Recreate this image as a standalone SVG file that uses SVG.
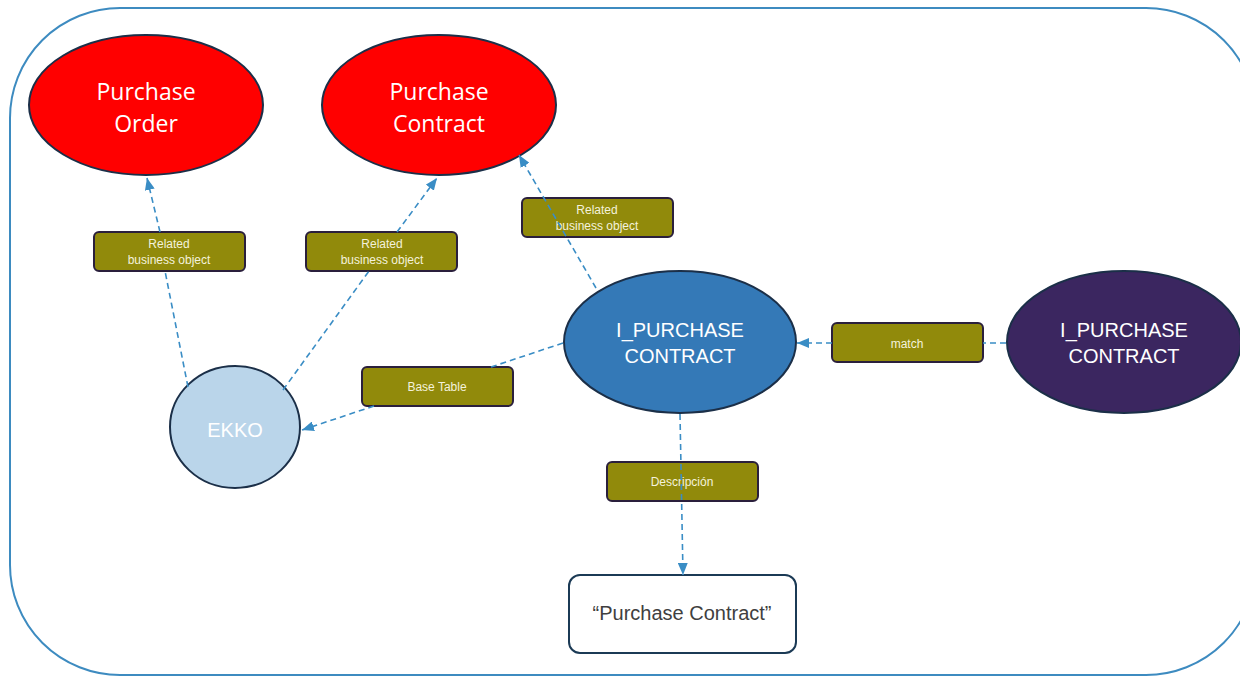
<svg xmlns="http://www.w3.org/2000/svg" width="1240" height="676" viewBox="0 0 1240 676">
  <defs>
    <marker id="arrow" viewBox="0 0 12 10" refX="12" refY="5" markerWidth="12" markerHeight="10" markerUnits="userSpaceOnUse" orient="auto">
      <path d="M0,0 L12,5 L0,10 Z" fill="#3A8DC5"/>
    </marker>
    <style>
      .frame { fill: #FFFFFF; stroke: #3D8BC0; stroke-width: 2; }
      .bo { fill: #FF0000; stroke: #1B2F48; stroke-width: 2; }
      .bo-text { font-family: "Open Sans", "Noto Sans", sans-serif; font-size: 23px; fill: #FFFFFF; text-anchor: middle; }
      .cds { fill: #3479B7; stroke: #1B2F48; stroke-width: 2; }
      .ext { fill: #3B2660; stroke: #1B2F48; stroke-width: 2; }
      .tbl { fill: #BAD5EA; stroke: #1B2F48; stroke-width: 2; }
      .node-text { font-family: "Liberation Sans", Arial, sans-serif; font-size: 20px; fill: #FFFFFF; text-anchor: middle; }
      .desc { fill: #FFFFFF; stroke: #1B3A55; stroke-width: 2; }
      .desc-text { font-family: "Liberation Sans", Arial, sans-serif; font-size: 20px; fill: #404040; text-anchor: middle; }
      .tag { fill: #918A0B; stroke: #2A1F3C; stroke-width: 2; }
      .tag-text { font-family: "Liberation Sans", Arial, sans-serif; font-size: 12px; fill: #F4F2DC; text-anchor: middle; }
      .link { fill: none; stroke: #3A8DC5; stroke-width: 1.6; stroke-dasharray: 6 4; }
    </style>
  </defs>

  <!-- outer frame -->
  <rect class="frame" x="10" y="8" width="1246" height="667" rx="110" ry="110"/>

  <!-- business objects -->
  <g id="purchase-order">
    <ellipse class="bo" cx="146" cy="105" rx="117" ry="70"/>
    <text class="bo-text" x="146" y="100">Purchase</text>
    <text class="bo-text" x="146" y="132">Order</text>
  </g>
  <g id="purchase-contract">
    <ellipse class="bo" cx="439" cy="105" rx="117" ry="70"/>
    <text class="bo-text" x="439" y="100">Purchase</text>
    <text class="bo-text" x="439" y="132">Contract</text>
  </g>

  <!-- CDS views -->
  <g id="i-purchase-contract">
    <ellipse class="cds" cx="680" cy="342" rx="116" ry="71"/>
    <text class="node-text" x="680" y="337">I_PURCHASE</text>
    <text class="node-text" x="680" y="363">CONTRACT</text>
  </g>
  <g id="i-purchase-contract-ext">
    <ellipse class="ext" cx="1124" cy="342" rx="117" ry="71"/>
    <text class="node-text" x="1124" y="337">I_PURCHASE</text>
    <text class="node-text" x="1124" y="363">CONTRACT</text>
  </g>

  <!-- base table -->
  <g id="ekko">
    <ellipse class="tbl" cx="235" cy="427" rx="65" ry="61"/>
    <text class="node-text" x="235" y="437">EKKO</text>
  </g>

  <!-- description -->
  <g id="description">
    <rect class="desc" x="569" y="575" width="227" height="78" rx="11" ry="11"/>
    <text class="desc-text" x="682" y="620">“Purchase Contract”</text>
  </g>

  <!-- relation labels -->
  <g id="label-rbo-order">
    <rect class="tag" x="94" y="232" width="151" height="39" rx="5" ry="5"/>
    <text class="tag-text" x="169" y="248">Related</text>
    <text class="tag-text" x="169" y="264">business object</text>
  </g>
  <g id="label-rbo-contract">
    <rect class="tag" x="306" y="232" width="151" height="39" rx="5" ry="5"/>
    <text class="tag-text" x="382" y="248">Related</text>
    <text class="tag-text" x="382" y="264">business object</text>
  </g>
  <g id="label-rbo-cds">
    <rect class="tag" x="522" y="198" width="151" height="39" rx="5" ry="5"/>
    <text class="tag-text" x="597" y="214">Related</text>
    <text class="tag-text" x="597" y="230">business object</text>
  </g>
  <g id="label-base-table">
    <rect class="tag" x="362" y="367" width="151" height="39" rx="5" ry="5"/>
    <text class="tag-text" x="437" y="391">Base Table</text>
  </g>
  <g id="label-match">
    <rect class="tag" x="832" y="323" width="151" height="39" rx="5" ry="5"/>
    <text class="tag-text" x="907" y="348">match</text>
  </g>
  <g id="label-descripcion">
    <rect class="tag" x="607" y="462" width="151" height="39" rx="5" ry="5"/>
    <text class="tag-text" x="682" y="486">Descripción</text>
  </g>

  <!-- connectors -->
  <g id="connectors">
    <line class="link" x1="188" y1="387" x2="165" y2="271"/>
    <line class="link" x1="160" y1="232" x2="147" y2="178" marker-end="url(#arrow)"/>

    <line class="link" x1="283" y1="390" x2="369" y2="271"/>
    <line class="link" x1="397" y1="232" x2="437" y2="178" marker-end="url(#arrow)"/>

    <line class="link" x1="596" y1="288" x2="519" y2="155" marker-end="url(#arrow)"/>

    <line class="link" x1="563" y1="343" x2="491" y2="367"/>
    <line class="link" x1="374" y1="406" x2="302" y2="430" marker-end="url(#arrow)"/>

    <line class="link" x1="1006" y1="343" x2="983" y2="343"/>
    <line class="link" x1="832" y1="343" x2="797" y2="343" marker-end="url(#arrow)"/>

    <line class="link" x1="680" y1="414" x2="683" y2="575" marker-end="url(#arrow)"/>
  </g>
</svg>
